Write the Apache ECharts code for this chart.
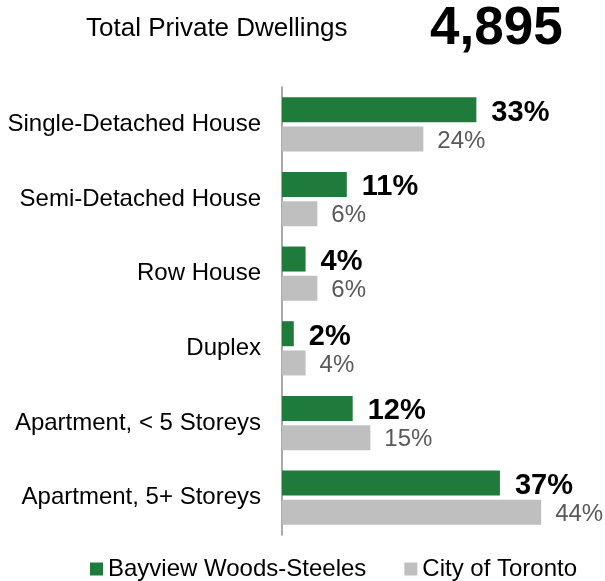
<!DOCTYPE html>
<html>
<head>
<meta charset="utf-8">
<script src="https://cdn.jsdelivr.net/npm/echarts@6/dist/echarts.min.js"></script>
<style>
  html, body { margin: 0; padding: 0; background: #ffffff; }
  #chart { width: 605px; height: 581px; }
</style>
</head>
<body>
<div id="chart"></div>
<script>
// Dwelling types, top to bottom
const categories = [
  'Single-Detached House',
  'Semi-Detached House',
  'Row House',
  'Duplex',
  'Apartment, < 5 Storeys',
  'Apartment, 5+ Storeys'
];
// Share of private dwellings (%)
const neighbourhoodValues = [33, 11, 4, 2, 12, 37];
const torontoValues = [24, 6, 6, 4, 15, 44];
const seriesNames = ['Bayview Woods-Steeles', 'City of Toronto'];
const totalLabel = 'Total Private Dwellings';
const totalValue = '4,895';

const FONT = 'Liberation Sans, Arial, sans-serif';
const GREEN = '#1e7b3c';
const GREY = '#bfbfbf';

const chart = echarts.init(document.getElementById('chart'), null, { renderer: 'canvas' });

chart.setOption({
  animation: false,
  backgroundColor: '#ffffff',
  textStyle: { fontFamily: FONT },
  title: [
    {
      text: totalLabel,
      left: 81, top: 11,
      textStyle: { fontFamily: FONT, fontSize: 26, fontWeight: 'normal', color: '#000' }
    },
    {
      text: totalValue,
      left: 425, top: -2,
      textStyle: { fontFamily: FONT, fontSize: 53, fontWeight: 'bold', color: '#000' }
    }
  ],
  legend: {
    top: 552,
    left: 85,
    icon: 'rect',
    itemWidth: 13,
    itemHeight: 13,
    itemGap: 38,
    textStyle: { fontFamily: FONT, fontSize: 24, color: '#000' },
    data: seriesNames
  },
  grid: { left: 282, right: 28.5, top: 87, bottom: 46, containLabel: false },
  xAxis: {
    type: 'value',
    min: 0,
    max: 50,
    show: false
  },
  yAxis: {
    type: 'category',
    inverse: true,
    data: categories,
    axisLine: { show: true, lineStyle: { color: '#8c8c8c', width: 1.5 } },
    axisTick: { show: false },
    axisLabel: {
      fontFamily: FONT, fontSize: 24, color: '#000', margin: 21,
      padding: [7, 0, 0, 0]
    }
  },
  series: [
    {
      name: seriesNames[0],
      type: 'bar',
      data: neighbourhoodValues,
      barWidth: 25,
      barGap: '17%',
      itemStyle: { color: GREEN },
      label: {
        show: true,
        position: 'right',
        distance: 15,
        offset: [0, 3],
        formatter: '{c}%',
        fontFamily: FONT,
        fontSize: 29,
        fontWeight: 'bold',
        color: '#000'
      }
    },
    {
      name: seriesNames[1],
      type: 'bar',
      data: torontoValues,
      barWidth: 25,
      itemStyle: { color: GREY },
      label: {
        show: true,
        position: 'right',
        distance: 14,
        offset: [0, 2],
        formatter: '{c}%',
        fontFamily: FONT,
        fontSize: 24,
        color: '#595959'
      }
    }
  ]
});
</script>
</body>
</html>
